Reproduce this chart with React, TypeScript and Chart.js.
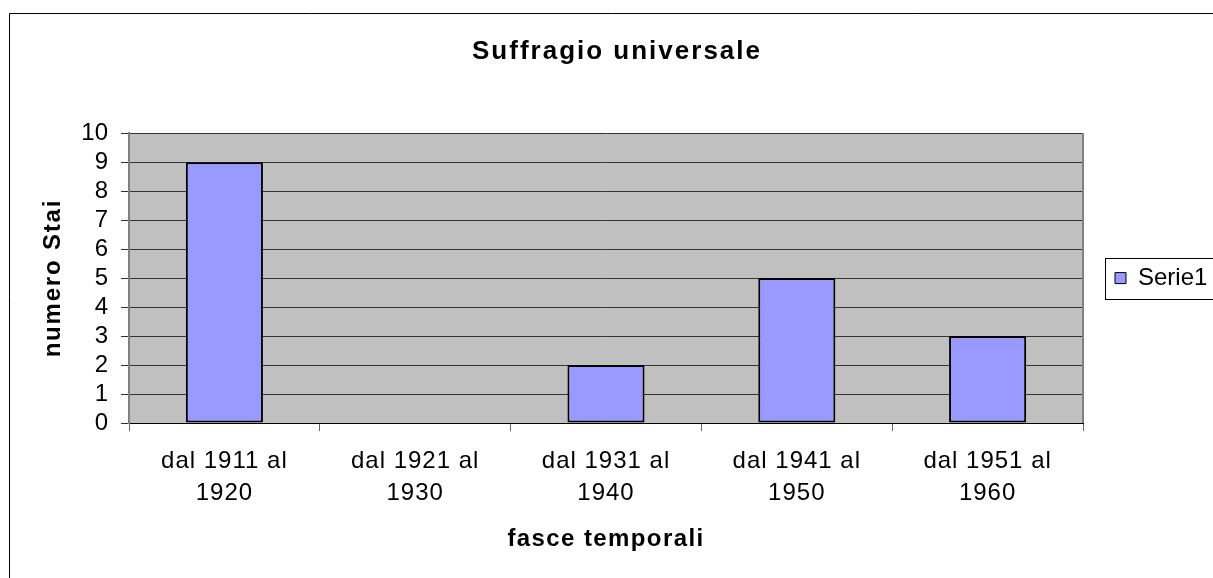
import React, { useEffect, useRef } from 'react';
import { Chart, registerables } from 'chart.js';

Chart.register(...registerables);

// ---- Data ----
const categories: string[][] = [
  ['dal 1911 al', '1920'],
  ['dal 1921 al', '1930'],
  ['dal 1931 al', '1940'],
  ['dal 1941 al', '1950'],
  ['dal 1951 al', '1960'],
];
const serie1Values: number[] = [9, 0, 2, 5, 3];
const seriesName = 'Serie1';
const chartTitle = 'Suffragio universale';
const xAxisTitle = 'fasce temporali';
const yAxisTitle = 'numero Stai';
const yMin = 0;
const yMax = 10;
const yStep = 1;

const FONT = '"Liberation Sans", Arial, Helvetica, sans-serif';

function withSpacing(obj: any, method: string, spacing: string) {
  if (!obj || obj['__ls_' + method]) return;
  const orig = obj[method];
  obj[method] = function (...args: any[]) {
    const ctx = this.ctx;
    ctx.save();
    ctx.letterSpacing = spacing;
    const r = orig.apply(this, args);
    ctx.restore();
    return r;
  };
  obj['__ls_' + method] = true;
}

const framePlugin = {
  id: 'excelFrame',
  afterLayout(chart: any) {
    withSpacing(chart.titleBlock, 'draw', '2px');
    withSpacing(chart.scales.x, 'drawTitle', '1.4px');
    withSpacing(chart.scales.x, 'drawLabels', '1px');
    withSpacing(chart.scales.y, 'drawTitle', '1.8px');
  },
  beforeDraw(chart: any) {
    const { ctx, chartArea: a, width, height } = chart;
    ctx.save();
    ctx.fillStyle = '#ffffff';
    ctx.fillRect(0, 0, width, height);
    // outer chart border (left + top visible)
    ctx.strokeStyle = '#000000';
    ctx.lineWidth = 1;
    ctx.beginPath();
    ctx.moveTo(9.5, height + 2);
    ctx.lineTo(9.5, 13.5);
    ctx.lineTo(width + 2, 13.5);
    ctx.stroke();
    // plot area fill
    ctx.fillStyle = '#C0C0C0';
    ctx.fillRect(a.left, a.top, a.right - a.left, a.bottom - a.top);
    ctx.restore();
  },
  beforeDatasetsDraw(chart: any) {
    const { ctx, chartArea: a } = chart;
    ctx.save();
    ctx.strokeStyle = '#808080';
    ctx.lineWidth = 2;
    ctx.beginPath();
    ctx.moveTo(a.right, a.top);
    ctx.lineTo(a.right, a.bottom);
    ctx.stroke();
    ctx.restore();
  },
  afterDraw(chart: any) {
    const legend = chart.legend;
    if (!legend || !legend.legendHitBoxes || !legend.legendHitBoxes.length) return;
    const hb = legend.legendHitBoxes[0];
    const { ctx } = chart;
    const cy = hb.top + hb.height / 2;
    ctx.save();
    ctx.strokeStyle = '#000000';
    ctx.lineWidth = 1;
    ctx.strokeRect(Math.round(hb.left - 10) + 0.5, Math.round(cy - 20.5) + 0.5, 300, 41);
    ctx.restore();
  },
};

export default function App() {
  const canvasRef = useRef<HTMLCanvasElement | null>(null);

  useEffect(() => {
    if (!canvasRef.current) return;
    const chart = new Chart(canvasRef.current, {
      type: 'bar',
      data: {
        labels: categories,
        datasets: [
          {
            label: seriesName,
            data: serie1Values,
            backgroundColor: '#9999FF',
            borderColor: '#000000',
            borderWidth: 2,
            borderSkipped: false,
            barPercentage: 0.404,
            categoryPercentage: 1,
          },
        ],
      },
      options: {
        responsive: false,
        animation: false,
        layout: { padding: { left: 27, right: 6, top: 0, bottom: 0 } },
        plugins: {
          title: {
            display: true,
            text: chartTitle,
            color: '#000000',
            font: { family: FONT, size: 26, weight: 'bold', lineHeight: 1.2 },
            padding: { top: 36, bottom: 66 },
          },
          legend: {
            position: 'right',
            align: 'center',
            fullSize: false,
            maxWidth: 124,
            labels: {
              boxWidth: 11,
              boxHeight: 11,
              padding: 32,
              color: '#000000',
              font: { family: FONT, size: 24 },
              generateLabels: (chart: any) =>
                Chart.defaults.plugins.legend.labels
                  .generateLabels(chart)
                  .map((item: any) => ({ ...item, lineWidth: 1 })),
            },
          },
          tooltip: { enabled: false },
        },
        scales: {
          x: {
            offset: true,
            grid: {
              offset: true,
              drawOnChartArea: false,
              drawTicks: true,
              tickLength: 8,
              color: '#666666',
            },
            border: { color: '#000000', width: 1 },
            ticks: {
              color: '#000000',
              font: { family: FONT, size: 24, lineHeight: 1.333 },
              padding: 14,
              maxRotation: 0,
              minRotation: 0,
              autoSkip: false,
            },
            title: {
              display: true,
              text: xAxisTitle,
              color: '#000000',
              font: { family: FONT, size: 24, weight: 'bold', lineHeight: 1.2 },
              padding: { top: 0, bottom: 24 },
            },
            afterFit: (scale: any) => {
              scale.height = 155;
            },
          },
          y: {
            min: yMin,
            max: yMax,
            ticks: {
              stepSize: yStep,
              autoSkip: false,
              color: '#000000',
              font: { family: FONT, size: 24 },
              padding: 13,
            },
            grid: { color: '#333333', lineWidth: 1, tickLength: 8, drawTicks: true },
            border: { color: '#808080', width: 2 },
            title: {
              display: true,
              text: yAxisTitle,
              color: '#000000',
              font: { family: FONT, size: 24, weight: 'bold', lineHeight: 1.2 },
              padding: { top: 12, bottom: 0 },
            },
            afterFit: (scale: any) => {
              scale.width = 102;
            },
          },
        },
      } as any,
      plugins: [framePlugin],
    });
    return () => chart.destroy();
  }, []);

  return (
    <div style={{ position: 'absolute', left: 0, top: 0, width: 1213, height: 578, background: '#fff' }}>
      <canvas ref={canvasRef} width={1213} height={578} style={{ display: 'block' }} />
    </div>
  );
}
